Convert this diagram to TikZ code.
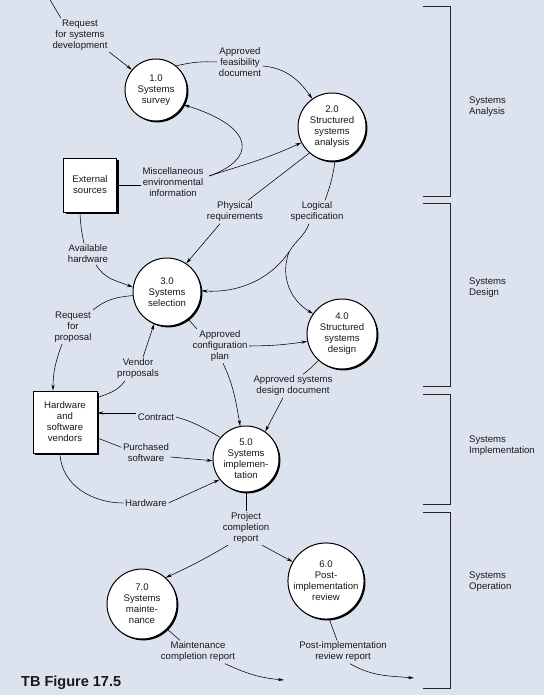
\documentclass[tikz,border=0pt]{standalone}
\usepackage{fontspec}
\setmainfont{Liberation Sans}
\usetikzlibrary{arrows.meta,shadows,calc}
\definecolor{bg}{RGB}{220,227,239}
\definecolor{ink}{RGB}{25,25,25}
\begin{document}
\begin{tikzpicture}[x=1pt,y=-1pt,
  every node/.style={font=\fontsize{9.6}{11}\selectfont, text=ink},
  proc/.style={circle,draw=black,fill=white,line width=1pt,align=center,inner sep=0pt,
    drop shadow={shadow xshift=1.4pt,shadow yshift=-1.4pt,fill=black,opacity=1}},
  ext/.style={rectangle,draw=black,fill=white,line width=0.9pt,align=center,inner sep=0pt,
    drop shadow={shadow xshift=2.2pt,shadow yshift=-2.2pt,fill=black,opacity=1}},
  lbl/.style={align=center,inner sep=1.5pt},
  flow/.style={draw=black,line width=0.55pt},
  arr/.style={flow,-{Stealth[length=6pt,width=3.2pt]}},
  brk/.style={draw=black!85,line width=0.8pt},
  side/.style={align=left,anchor=west,inner sep=0pt}
]
\fill[bg] (0,0) rectangle (544,695);
\useasboundingbox (0,0) rectangle (544,695);

% processes
\node[proc,minimum size=62pt] (p1) at (156,90) {1.0\\Systems\\survey};
\node[proc,minimum size=68pt] (p2) at (332,127) {2.0\\Structured\\systems\\analysis};
\node[proc,minimum size=68pt] (p3) at (167,292) {3.0\\Systems\\selection};
\node[proc,minimum size=70pt] (p4) at (342,334) {4.0\\Structured\\systems\\design};
\node[proc,minimum size=66pt] (p5) at (246,459) {5.0\\Systems\\implemen-\\tation};
\node[proc,minimum size=74pt] (p6) at (326,581) {6.0\\Post-\\implementation\\review};
\node[proc,minimum size=70pt] (p7) at (142,604) {7.0\\Systems\\mainte-\\nance};

% external entities
\node[ext,minimum width=53pt,minimum height=54pt] (ext) at (90,185) {External\\sources};
\node[ext,minimum width=64pt,minimum height=62pt] (hw) at (65,422) {Hardware\\and\\software\\vendors};

% flow labels
\node[lbl] (lreq) at (80,35) {Request\\for systems\\development};
\node[lbl] (lfeas) at (240,62) {Approved\\feasibility\\document};
\node[lbl] (lmisc) at (173,182) {Miscellaneous\\environmental\\information};
\node[lbl] (lphys) at (235,212) {Physical\\requirements};
\node[lbl] (lspec) at (317,212) {Logical\\specification};
\node[lbl] (lavail) at (88,254) {Available\\hardware};
\node[lbl] (lrfp) at (73,327) {Request\\for\\proposal};
\node[lbl] (lvend) at (138,369) {Vendor\\proposals};
\node[lbl] (lconf) at (220,346) {Approved\\configuration\\plan};
\node[lbl] (lasd) at (293,386) {Approved systems\\design document};
\node[lbl] (lcon) at (156,417) {Contract};
\node[lbl] (lpur) at (146,453) {Purchased\\software};
\node[lbl] (lhard) at (146,503) {Hardware};
\node[lbl] (lproj) at (246,528) {Project\\completion\\report};
\node[lbl] (lmaint) at (198,652) {Maintenance\\completion report};
\node[lbl] (lpir) at (343,652) {Post-implementation\\review report};

% phase brackets and labels
\draw[brk] (423,6) -- (450,6) -- (450,196) -- (423,196);
\draw[brk] (423,203) -- (450,203) -- (450,386) -- (423,386);
\draw[brk] (423,394) -- (450,394) -- (450,504) -- (423,504);
\draw[brk] (423,512) -- (450,512) -- (450,688) -- (423,688);
\node[side] (sa) at (469,107) {Systems\\Analysis};
\node[side] (sd) at (469,288) {Systems\\Design};
\node[side] (si) at (469,446) {Systems\\Implementation};
\node[side] (so) at (469,582) {Systems\\Operation};

\node[anchor=west,inner sep=0pt,font=\fontsize{14.5}{16}\selectfont\bfseries] (fig) at (21,683) {TB Figure 17.5};

% coordinates for free ends / junctions
\coordinate (tin) at (49,-2);
\coordinate (mj) at ([xshift=4pt,yshift=6pt]lmisc.east);
\coordinate (sj) at (289,252);
\coordinate (o1) at (284,680);
\coordinate (o2) at (414,678);

% connectors
\draw[flow] (tin) -- ([xshift=10pt]lreq.north west);
\draw[arr] (lreq.south east) -- (p1.140);

\draw[flow] (p1.50) to[bend left=8] (lfeas.west);
\draw[arr] ([yshift=-4pt]lfeas.east) to[out=-5,in=125] (p2.125);

\draw[flow] (ext.east) -- ([yshift=-3pt]lmisc.west);
\draw[arr] (mj) to[out=18,in=205] (p2.207);
\draw[arr] (mj) .. controls (255,160) and (258,128) .. (p1.-28);

\draw[flow] (p2.229) -- ([xshift=13pt]lphys.north);
\draw[arr] ([xshift=-15pt]lphys.south) -- (p3.56);

\draw[flow] (p2.-85) to[bend left=6] ([xshift=8pt]lspec.north);
\draw[flow] ([xshift=-8pt]lspec.south) to[out=-110,in=60] (sj);
\draw[arr] (sj) .. controls (268,282) and (235,293) .. (p3.2);
\draw[arr] (sj) .. controls (280,276) and (290,300) .. (p4.145);

\draw[flow] ([xshift=-10pt]ext.south) to[bend right=5] ([xshift=-4pt]lavail.north);
\draw[arr] ([xshift=8pt]lavail.south) to[out=-60,in=158] (p3.172);

\draw[flow] (p3.186) to[out=185,in=40] (lrfp.north east);
\draw[arr] ([xshift=-11pt]lrfp.south) to[out=-110,in=90] ([xshift=-12pt]hw.north);

\draw[flow] ([yshift=-7pt]hw.north east) to[out=20,in=235] ([xshift=-13pt]lvend.south);
\draw[arr] ([xshift=5pt]lvend.north) -- (p3.248);

\draw[flow] (p3.-52) -- ([xshift=6pt]lconf.north west);
\draw[arr] (lconf.east) to[bend right=4] (p4.192);
\draw[arr] ([xshift=3pt]lconf.south) to[out=-65,in=100] (p5.100);

\draw[flow] (p4.228) to[bend left=5] ([xshift=10pt]lasd.north);
\draw[arr] ([xshift=-10pt]lasd.south) -- (p5.55);

\draw[flow] (p5.140) to[out=150,in=-15] (lcon.east);
\draw[arr] ([yshift=4pt]lcon.west) -- ([yshift=9pt]hw.east);

\draw[flow] ([yshift=-16pt]hw.east) -- ([yshift=-5pt]lpur.north west);
\draw[arr] ([yshift=-4pt]lpur.east) -- (p5.183);

\draw[flow] ([xshift=-5pt]hw.south) to[out=-88,in=180] (lhard.west);
\draw[arr] (lhard.east) -- (p5.218);

\draw[flow] (p5.south) -- (lproj.north);
\draw[arr] ([xshift=-18pt]lproj.south) to[bend left=3] (p7.48);
\draw[arr] ([xshift=16pt]lproj.south) -- (p6.150);

\draw[flow] (p7.-45) -- ([xshift=-18pt]lmaint.north);
\draw[arr] ([xshift=27pt]lmaint.south) to[out=-25,in=175] (o1);

\draw[flow] (p6.-85) -- ([xshift=-6pt]lpir.north);
\draw[arr] ([xshift=7pt]lpir.south) to[out=-30,in=175] (o2);
\end{tikzpicture}
\end{document}
